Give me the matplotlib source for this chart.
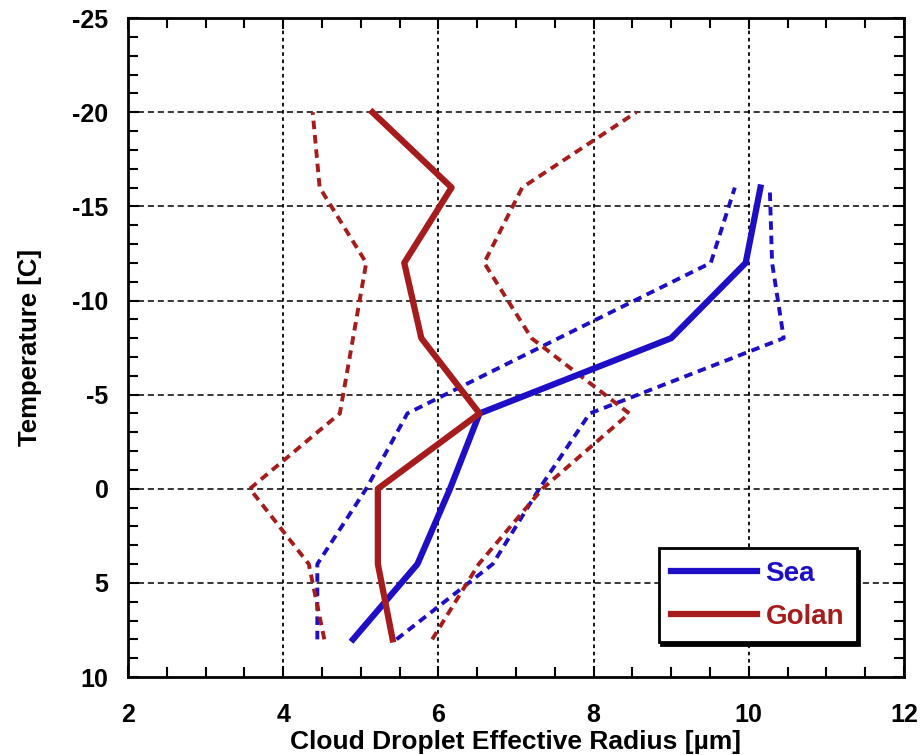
import numpy as np
import matplotlib.pyplot as plt
from matplotlib.ticker import MultipleLocator

plt.rcParams['font.family'] = ['Liberation Sans', 'DejaVu Sans']
plt.rcParams['font.weight'] = 'bold'
plt.rcParams['axes.unicode_minus'] = False

# temperature levels [C]
temp_sea = [8, 4, 0, -4, -8, -12, -16]
temp_golan = [8, 4, 0, -4, -8, -12, -16, -20]

# effective radius [um]: median and spread bounds
sea_med = [4.9, 5.73, 6.15, 6.53, 9.0, 9.96, 10.15]
sea_low = [4.44, 4.44, 5.07, 5.6, 7.55, 9.51, 9.82]
sea_high = [5.46, 6.7, 7.3, 7.95, 10.45, 10.3, 10.27]

golan_med = [5.41, 5.22, 5.22, 6.53, 5.78, 5.56, 6.17, 5.15]
golan_low = [4.53, 4.33, 3.57, 4.73, 4.9, 5.07, 4.47, 4.38]
golan_high = [5.92, 6.52, 7.34, 8.46, 7.2, 6.59, 7.08, 8.55]

blue = '#1e0fc6'
red = '#a61c1c'

fig = plt.figure(figsize=(9.22, 7.55), dpi=100)
ax = fig.add_axes([0.1388, 0.1033, 0.8417, 0.8727])

dash = (0, (2.2, 1.5))
ax.plot(sea_low, temp_sea, color=blue, lw=2.8, ls=dash)
ax.plot(sea_high, temp_sea, color=blue, lw=2.8, ls=dash)
ax.plot(golan_low, temp_golan, color=red, lw=2.8, ls=dash)
ax.plot(golan_high, temp_golan, color=red, lw=2.8, ls=dash)
ax.plot(sea_med, temp_sea, color=blue, lw=4.5, label='Sea')
ax.plot(golan_med, temp_golan, color=red, lw=4.5, label='Golan')

ax.set_xlim(2, 12)
ax.set_ylim(10, -25)
ax.xaxis.set_major_locator(MultipleLocator(2))
ax.xaxis.set_minor_locator(MultipleLocator(0.5))
ax.yaxis.set_major_locator(MultipleLocator(5))
ax.yaxis.set_minor_locator(MultipleLocator(1))

# grid: dashed rows, dotted columns
for yv in range(-20, 10, 5):
    ax.axhline(yv, color='k', lw=1.1, ls=(0, (4, 2.5)), zorder=1)
for xv in range(4, 12, 2):
    ax.axvline(xv, color='k', lw=1.3, ls=(0, (2, 2)), zorder=1)

ax.tick_params(which='both', direction='in', top=True, right=True,
               width=1.5, labelsize=18)
ax.tick_params(axis='x', pad=19)
ax.tick_params(axis='y', pad=14)
ax.tick_params(which='major', length=8)
ax.tick_params(which='minor', length=7)
for s in ax.spines.values():
    s.set_linewidth(2)

ax.set_xlabel('Cloud Droplet Effective Radius [µm]', fontsize=19,
              fontweight='bold', labelpad=2)
ax.set_ylabel('Temperature [C]', fontsize=18.5, fontweight='bold', labelpad=22)

leg = ax.legend(loc='lower right', bbox_to_anchor=(0.939, 0.053),
                borderaxespad=0, fancybox=False, handlelength=3.1,
                prop={'size': 20, 'weight': 'bold'}, labelspacing=0.6,
                borderpad=0.45, handletextpad=0.3,
                shadow={'color': 'black', 'alpha': 1})
leg.get_frame().set_edgecolor('black')
leg.get_frame().set_linewidth(2)
for txt, col in zip(leg.get_texts(), [blue, red]):
    txt.set_color(col)

fig.savefig('out.png', dpi=100)
